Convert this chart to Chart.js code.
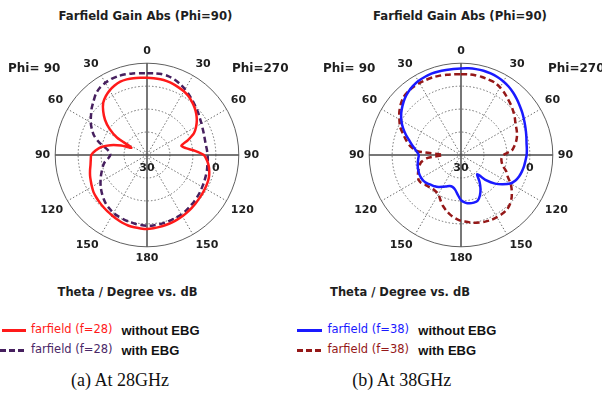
<!DOCTYPE html>
<html>
<head>
<meta charset="utf-8">
<script src="https://cdn.jsdelivr.net/npm/chart.js@4.4.1/dist/chart.umd.min.js"></script>
<style>
html,body{margin:0;padding:0;background:#fff;}
body{width:602px;height:394px;position:relative;overflow:hidden;}
canvas{position:absolute;}
.t{position:absolute;white-space:pre;line-height:1;font-family:"DejaVu Sans",sans-serif;font-weight:bold;color:#1e1e1e;}
.c{transform:translate(-50%,-50%);}
.l{transform:translate(0,-50%);}
.ln{position:absolute;height:2.5px;}
.leg{position:absolute;white-space:pre;line-height:1;transform:translate(0,-50%);font-family:"DejaVu Sans",sans-serif;font-size:11.5px;}
.ebg{position:absolute;white-space:pre;line-height:1;transform:translate(0,-50%);font-family:"Liberation Sans",Arial,sans-serif;font-weight:bold;font-size:13px;color:#111;}
.cap{position:absolute;white-space:pre;line-height:1;transform:translate(-50%,-50%);font-family:"Liberation Serif","Times New Roman",serif;font-size:18px;color:#111;}
</style>
</head>
<body>
<canvas id="c28" width="240" height="220" style="left:27px;top:45px;"></canvas>
<canvas id="c38" width="240" height="220" style="left:341px;top:45px;"></canvas>

<div class="t c" style="left:145.5px;top:17px;font-size:11.7px;">Farfield Gain Abs (Phi=90)</div>
<div class="t c" style="left:460px;top:17px;font-size:11.7px;">Farfield Gain Abs (Phi=90)</div>
<div class="t l" style="left:8px;top:68px;font-size:12px;">Phi= 90</div>
<div class="t l" style="left:232px;top:68px;font-size:12px;">Phi=270</div>
<div class="t l" style="left:323px;top:68px;font-size:12px;">Phi= 90</div>
<div class="t l" style="left:548px;top:68px;font-size:12px;">Phi=270</div>
<div class="t c" style="left:127.5px;top:293px;font-size:11.5px;">Theta / Degree vs. dB</div>
<div class="t c" style="left:400px;top:293px;font-size:11.5px;">Theta / Degree vs. dB</div>

<div class="ln" style="left:2px;top:329px;width:24px;background:#ff1a1a;"></div>
<div class="leg" style="left:31px;top:330px;color:#ff1a1a;">farfield (f=28)</div>
<div class="ebg" style="left:121.5px;top:330px;">without EBG</div>
<div class="ln" style="left:0px;top:349px;width:24px;background:repeating-linear-gradient(to right,#47205f 0 6px,transparent 6px 9px);"></div>
<div class="leg" style="left:31px;top:350px;color:#4a2868;">farfield (f=28)</div>
<div class="ebg" style="left:121.5px;top:350px;">with EBG</div>

<div class="ln" style="left:297px;top:329px;width:25px;background:#1a1aff;"></div>
<div class="leg" style="left:327.5px;top:330px;color:#1a1aff;">farfield (f=38)</div>
<div class="ebg" style="left:418.3px;top:330px;">without EBG</div>
<div class="ln" style="left:297px;top:349px;width:24px;background:repeating-linear-gradient(to right,#951818 0 6px,transparent 6px 9px);"></div>
<div class="leg" style="left:327.5px;top:350px;color:#951818;">farfield (f=38)</div>
<div class="ebg" style="left:418.3px;top:350px;">with EBG</div>

<div class="cap" style="left:120px;top:380px;">(a) At 28GHz</div>
<div class="cap" style="left:401.7px;top:380px;">(b) At 38GHz</div>

<script>
// Theta (clockwise from top, degrees): right half = Phi=270 side, left half = Phi=90 side
const thetaDeg = [0,5,10,15,20,25,30,35,40,45,50,55,60,65,70,75,80,85,90,95,100,105,110,115,120,125,130,135,140,145,150,155,160,165,170,175,180,185,190,195,200,205,210,215,220,225,230,235,240,245,250,255,260,265,270,275,280,285,290,295,300,305,310,315,320,325,330,335,340,345,350,355];

// 28 GHz, gain in dB
const gain28NoEBG = [3.7,3.6,3.5,3.3,3.0,2.5,2.1,1.4,0.4,-0.7,-2.0,-3.5,-5.3,-7.4,-11.0,-14.5,-12.8,-9.0,-5.2,-3.8,-2.7,-1.9,-1.3,-1.0,-0.8,-0.6,-0.4,-0.1,0.2,0.5,0.8,1.1,1.4,1.6,1.8,2.0,2.2,2.1,2.0,1.8,1.4,0.9,0.4,0.0,-0.4,-0.8,-1.2,-1.6,-2.3,-3.0,-3.6,-4.3,-5.0,-5.4,-5.7,-7.5,-9.8,-13.5,-18.0,-22.5,-15.0,-10.0,-6.1,-3.0,-0.3,1.3,2.5,3.4,4.0,4.1,4.0,3.8];
const gain28EBG = [5.6,5.7,5.8,5.6,5.0,4.1,3.1,2.0,0.9,-0.1,-1.0,-1.9,-2.6,-3.2,-3.6,-3.9,-4.0,-3.8,-3.6,-3.4,-3.3,-3.0,-2.8,-2.5,-2.2,-1.8,-1.5,-1.1,-0.8,-0.4,-0.1,0.1,0.3,0.5,0.7,0.8,0.8,0.6,0.4,0.1,-0.2,-0.5,-0.8,-1.5,-2.2,-3.2,-4.3,-5.4,-6.6,-7.8,-9.0,-10.0,-11.2,-13.0,-14.0,-13.5,-11.5,-8.3,-5.5,-3.5,-1.7,-0.2,1.5,3.0,4.7,5.8,6.3,6.6,6.6,6.4,6.1,5.8];

// 38 GHz, gain in dB
const gain38NoEBG = [7.7,7.9,8.0,8.0,7.8,7.5,7.0,6.3,5.4,4.4,3.4,2.5,1.6,0.8,0.1,-0.5,-1.0,-1.2,-1.4,-1.8,-2.1,-2.5,-3.0,-3.8,-5.2,-7.8,-10.6,-14.3,-19.0,-16.0,-13.0,-10.5,-8.8,-8.5,-8.6,-9.2,-10.3,-12.8,-14.8,-15.6,-15.6,-14.9,-14.0,-13.0,-12.2,-11.6,-10.8,-10.2,-10.0,-10.0,-10.2,-10.5,-10.9,-11.3,-11.6,-10.5,-8.8,-6.9,-4.5,-2.1,0.0,1.8,3.3,4.7,5.8,6.6,7.2,7.5,7.7,7.7,7.6,7.6];
const gain38EBG = [5.2,5.3,5.3,5.2,5.0,4.8,4.0,3.0,1.8,0.8,-0.3,-1.4,-2.6,-3.3,-4.0,-5.0,-6.3,-7.8,-11.5,-12.3,-12.0,-11.0,-9.0,-7.5,-5.0,-3.0,-1.2,0.2,1.1,1.3,1.3,1.2,0.9,0.5,0.0,-0.8,-1.3,-2.3,-3.5,-5.0,-6.6,-8.6,-10.3,-10.7,-10.8,-10.3,-9.8,-8.8,-8.6,-9.3,-10.2,-11.2,-12.4,-15.5,-22.0,-11.0,-7.5,-5.3,-3.1,-0.7,1.0,2.8,4.3,5.5,6.0,6.2,6.2,6.1,6.0,5.8,5.5,5.3];

// radial axis (dB)
const rMin = -30, rMax = 10, rStep = 10;
const ringLabelValues = [-30, 0];
const ringLabelTexts = ['30', '0'];
const angleLabelStep = 30;

const ringLabelPlugin = {
  id: 'ringLabels',
  afterDatasetsDraw(chart) {
    const s = chart.scales.r;
    const ctx = chart.ctx;
    const idx = thetaDeg.indexOf(90);
    ctx.save();
    ctx.font = 'bold 11px "DejaVu Sans"';
    ctx.fillStyle = '#1e1e1e';
    ctx.textAlign = 'center';
    ctx.textBaseline = 'middle';
    ringLabelValues.forEach((v, i) => {
      const p = s.getPointPositionForValue(idx, v);
      ctx.fillText(ringLabelTexts[i], p.x, p.y + 13);
    });
    ctx.restore();
  }
};

function makeChart(id, solidData, solidColor, dashData, dashColor) {
  return new Chart(document.getElementById(id), {
    type: 'radar',
    data: {
      labels: thetaDeg,
      datasets: [
        {data: solidData, borderColor: solidColor, borderWidth: 2.5, fill: false, pointRadius: 0, tension: 0.25},
        {data: dashData, borderColor: dashColor, borderWidth: 2.5, borderDash: [6, 3.5], fill: false, pointRadius: 0, tension: 0.25}
      ]
    },
    options: {
      responsive: false,
      animation: false,
      devicePixelRatio: 1,
      layout: {padding: 0},
      plugins: {legend: {display: false}, title: {display: false}, tooltip: {enabled: false}},
      scales: {
        r: {
          min: rMin, max: rMax,
          ticks: {display: false, stepSize: rStep},
          grid: {
            circular: true,
            color: c => (c.tick && c.tick.value === rMax) ? '#606060' : '#6e6e6e',
            lineWidth: 1
          },
          border: {
            dash: c => (c.tick && c.tick.value === rMax) ? [] : [1.5, 2]
          },
          angleLines: {
            color: c => { const a = thetaDeg[c.index]; return a % 90 === 0 ? '#4a4a4a' : (a % angleLabelStep === 0 ? '#6e6e6e' : 'rgba(0,0,0,0)'); },
            lineWidth: c => { const a = thetaDeg[c.index]; return a % 90 === 0 ? 1.5 : (a % angleLabelStep === 0 ? 1 : 0); },
            borderDash: c => thetaDeg[c.index] % 90 === 0 ? [] : [1.5, 2]
          },
          pointLabels: {
            font: {family: 'DejaVu Sans', size: 11, weight: 'bold'},
            color: '#1e1e1e',
            padding: 5,
            callback: (label, i) => {
              const a = thetaDeg[i];
              if (a % angleLabelStep !== 0) return '';
              return String(a <= 180 ? a : 360 - a);
            }
          }
        }
      }
    },
    plugins: [ringLabelPlugin]
  });
}

makeChart('c28', gain28NoEBG, '#ff1a1a', gain28EBG, '#47205f');
makeChart('c38', gain38NoEBG, '#1a1aff', gain38EBG, '#951818');
</script>
</body>
</html>
